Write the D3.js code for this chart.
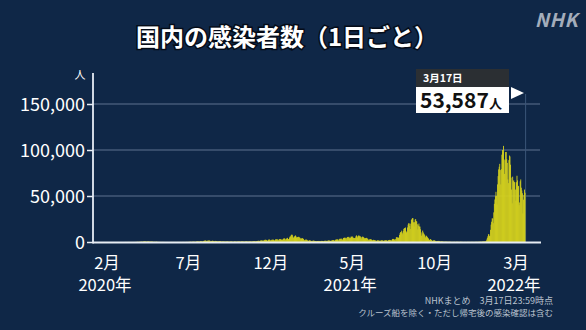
<!DOCTYPE html>
<html><head><meta charset="utf-8">
<script src="https://cdn.jsdelivr.net/npm/d3@7"></script>
<style>
html,body{margin:0;padding:0;background:#0f2747;}
svg{display:block;}
text{font-family:"Noto Sans CJK JP","Noto Sans",sans-serif;}
</style></head>
<body>
<svg id="c" width="586" height="330"></svg>
<script>
// ---- data ----
const title = "国内の感染者数（1日ごと）";
const yTicks = [0, 50000, 100000, 150000];
const xTickMonths = ["2020-02-01","2020-07-01","2020-12-01","2021-05-01","2021-10-01","2022-03-01"];
const xTickMonthLabels = ["2月","7月","12月","5月","10月","3月"];
const xTickYearLabels = ["2020年","","","2021年","","2022年"];
const lastDateLabel = "3月17日";
const lastValue = 53587;
const footnotes = ["NHKまとめ　3月17日23:59時点","クルーズ船を除く・ただし帰宅後の感染確認は含む"];

// start date of each block of daily values
const blockStarts = ["2020-01-16","2020-02-01","2020-03-01","2020-04-01","2020-05-01","2020-06-01","2020-07-01","2020-08-01","2020-09-01","2020-10-01","2020-11-01","2020-12-01",
 "2021-01-01","2021-02-01","2021-03-01","2021-04-01","2021-05-01","2021-06-01","2021-07-01","2021-08-01","2021-09-01","2021-10-01","2021-11-01","2021-12-01",
 "2022-01-01","2022-02-01","2022-03-01"];
const dailyCases = [
 [1,0,0,0,0,0,0,1,1,0,1,0,3,4,2,2],
 [0,0,1,0,0,0,0,1,0,0,0,0,4,8,5,13,6,4,4,9,17,12,5,4,16,21,19,12,13],
 [15,11,16,22,37,55,32,28,34,48,57,53,43,51,33,20,40,44,41,40,48,42,40,67,71,96,122,200,173,88,223],
 [266,233,352,368,383,254,353,509,575,641,718,507,294,455,530,583,560,590,373,358,378,455,433,438,343,206,180,240,215,159],
 [265,293,209,128,125,122,84,103,108,60,45,83,55,87,57,50,31,28,31,39,37,30,27,21,14,21,35,41,44,48,48],
 [45,38,51,40,50,47,34,25,40,45,44,41,54,47,72,43,44,48,68,62,57,51,38,48,48,105,92,97,58,130],
 [124,195,250,274,208,148,208,355,223,430,390,204,154,312,459,622,595,669,510,421,419,795,981,777,838,476,598,983,1264,1301,1579],
 [1536,1331,960,1241,1357,1484,1595,1569,1444,840,700,985,1176,1356,1227,1020,641,853,1191,1126,1098,872,744,475,745,878,936,938,866,553,432],
 [624,585,652,598,510,430,388,508,481,652,586,520,443,268,501,506,582,574,476,352,235,271,532,575,549,471,412,289,490,560],
 [580,556,571,476,288,531,642,604,678,552,450,276,603,523,690,651,601,479,315,560,643,671,603,663,477,453,600,721,798,772,806],
 [861,494,736,867,1046,1184,1324,1224,892,1256,1438,1637,1623,1693,1418,1028,1689,1990,2324,2386,2415,2126,1515,1230,1911,2503,2510,2654,2035,1421],
 [2031,2430,2511,2439,2514,2052,1486,2045,2796,2959,2771,3030,2395,1681,2408,3149,3028,2995,2990,2500,1806,2500,3211,3742,3823,3880,2947,2395,3605,3853,4520],
 [3262,3078,3146,4904,6000,6001,7568,8045,7790,6093,4875,4547,5875,6607,7133,6043,4924,4927,5323,5528,5660,5055,4716,3990,2762,3854,3962,4131,3539,3345,2063],
 [1786,2322,2631,2575,2371,1800,1452,1231,1476,1787,1803,1367,1208,1064,902,1308,1527,1373,1241,1076,1045,807,731,1078,1081,1079,1137,993],
 [1112,753,974,1170,1172,1131,1065,603,1123,1283,1280,1327,1290,948,1014,1508,1680,1492,1471,1505,1118,816,1521,1923,1937,2104,2084,1317,1496,2160,2765],
 [2612,2730,2760,2474,1571,2657,3451,3454,3471,3696,2780,2105,3455,4310,4570,4532,4800,4087,2666,4312,5286,5515,5119,5618,4607,3320,4488,5809,5813,4682],
 [5994,4734,4437,4311,4108,4425,6049,7244,6469,4910,5953,6977,6988,6275,6370,5254,3676,5140,5724,5817,5237,4725,4121,2872,4223,4398,4527,3897,3487,2602,1896],
 [2664,2949,3063,2764,2629,2190,1576,2198,2380,2193,1940,1817,1393,933,1471,1716,1760,1579,1512,1313,950,1455,1771,1790,1629,1706,1303,971,1576,1844],
 [1762,1776,1766,1491,1043,1642,2184,2217,2291,2083,1518,1504,2383,3194,3416,3101,3054,2330,1720,3233,4938,5400,5017,4226,4692,4692,7631,9576,10694,10743,12340],
 [10166,8405,12009,14211,15259,14468,15753,12054,10383,10851,15813,18889,20365,20151,17394,14165,19928,23917,25156,25992,25855,21419,16813,21562,24316,24935,22745,22287,19294,13646,17827],
 [20030,16752,16752,13823,10442,6770,8229,12396,10395,9157,8222,7216,4974,5986,6827,5810,5077,4272,3563,2220,2236,3266,3051,2128,2057,1128,1147,1610,1990,1576],
 [1442,1097,1065,575,1080,1133,1021,1208,878,651,385,562,598,621,508,430,290,229,370,341,386,345,289,263,154,230,301,280,260,228,183],
 [86,157,143,124,182,182,162,65,150,239,209,193,165,118,78,180,216,164,148,153,107,57,74,128,101,129,108,72,81,135],
 [144,123,117,118,117,86,133,167,153,120,114,92,103,128,148,182,179,159,137,182,233,251,282,328,291,207,356,390,515,502,554],
 [534,456,778,1268,2640,4475,6214,8480,8249,6438,6378,13244,18860,22045,25742,25461,20447,32197,41485,46199,49854,54576,50037,40715,62613,71633,78930,81794,84941,78180,62604],
 [79273,94924,100000,97834,104471,89750,74000,88890,97800,97850,90000,86000,68000,64000,89000,94000,93000,84000,70000,57000,42000,71000,66000,67000,65000,65000,57000,45000],
 [65000,72000,67000,60000,61000,40000,43000,66000,68000,59000,56000,53000,31000,46000,51000,57000,53587]
];

// ---- build ----
const parse = d3.timeParse("%Y-%m-%d");
const days = [];
blockStarts.forEach((s, i) => {
  const d0 = parse(s);
  dailyCases[i].forEach((v, j) => {
    days.push({date: d3.timeDay.offset(d0, j), value: v});
  });
});

const svg = d3.select("#c");
svg.append("rect").attr("width",586).attr("height",330).attr("fill","#0f2747");

const x = d3.scaleTime().domain([parse("2020-02-01"), parse("2022-03-01")]).range([107, 516]);
const y = d3.scaleLinear().domain([0, 150000]).range([242, 104]);

// gridlines
svg.append("g").selectAll("line").data(yTicks.filter(t => t > 0)).join("line")
  .attr("x1", 93).attr("x2", 540)
  .attr("y1", d => y(d)).attr("y2", d => y(d))
  .attr("stroke", "#5f7390").attr("stroke-width", 1.2);

// marker line at last date
const lastDate = days[days.length - 1].date;
svg.append("line")
  .attr("x1", x(lastDate) + 1).attr("x2", x(lastDate) + 1)
  .attr("y1", 94).attr("y2", 242)
  .attr("stroke", "#3b5678").attr("stroke-width", 1);

// bars
svg.append("g").selectAll("rect").data(days).join("rect")
  .attr("x", d => x(d.date))
  .attr("width", d => x(d3.timeDay.offset(d.date, 1)) - x(d.date) + 0.35)
  .attr("y", d => y(d.value))
  .attr("height", d => y(0) - y(d.value))
  .attr("fill", "#d6d21e");

// baseline
svg.append("line").attr("x1", 93).attr("x2", 541).attr("y1", 242.5).attr("y2", 242.5)
  .attr("stroke", "#e6ecf4").attr("stroke-width", 2);

// y axis
const yAxis = d3.axisLeft(y).tickValues(yTicks).tickSize(6).tickPadding(2)
  .tickFormat(d3.format(","));
const ya = svg.append("g").attr("transform", "translate(93,0)").call(yAxis);
ya.select(".domain").remove();
ya.selectAll(".tick line").attr("stroke", "#e6ecf4").attr("stroke-width", 1.5);
ya.selectAll(".tick text").attr("fill", "#ffffff").attr("font-size", 18)
  .attr("font-family", "'Noto Sans CJK JP', sans-serif").attr("dy", "0.35em");
svg.append("line").attr("x1", 93).attr("x2", 93).attr("y1", 73).attr("y2", 243.5)
  .attr("stroke", "#e6ecf4").attr("stroke-width", 1.8);
svg.append("text").attr("x", 80).attr("y", 79).attr("text-anchor", "middle")
  .attr("fill", "#ffffff").attr("font-size", 11).text("人");

// x axis labels
const xt = svg.append("g");
xTickMonths.forEach((m, i) => {
  const px = x(parse(m));
  xt.append("text").attr("x", px).attr("y", 269).attr("text-anchor", "middle")
    .attr("fill", "#ffffff").attr("font-size", 16.5).text(xTickMonthLabels[i]);
  if (xTickYearLabels[i]) {
    xt.append("text").attr("x", px - 2).attr("y", 291).attr("text-anchor", "middle")
      .attr("fill", "#ffffff").attr("font-size", 16.5).text(xTickYearLabels[i]);
  }
});

// title
svg.append("text").attr("x", 287).attr("y", 46).attr("text-anchor", "middle")
  .attr("fill", "#ffffff").attr("stroke", "#050c18").attr("stroke-width", 3)
  .attr("paint-order", "stroke").attr("font-weight", "bold").attr("font-size", 24)
  .text(title);

// NHK logo
svg.append("text").attr("x", 578).attr("y", 27).attr("text-anchor", "end")
  .attr("fill", "#a3adbb").attr("font-size", 19).attr("font-weight", "bold")
  .attr("font-style", "italic").attr("font-family", "'DejaVu Sans', sans-serif")
  .attr("letter-spacing", 0.5).text("NHK");

// callout
const cb = svg.append("g");
cb.append("rect").attr("x", 416).attr("y", 69).attr("width", 93).attr("height", 18).attr("fill", "#2b2f33");
cb.append("text").attr("x", 423).attr("y", 82).attr("fill", "#ffffff").attr("font-size", 10.5)
  .attr("font-weight", "bold").text(lastDateLabel);
cb.append("rect").attr("x", 416).attr("y", 87).attr("width", 93).attr("height", 26).attr("fill", "#ffffff");
cb.append("text").attr("x", 420).attr("y", 108).attr("fill", "#111111").attr("font-size", 21)
  .attr("font-weight", "bold").attr("font-family", "'Noto Sans', 'Liberation Sans', sans-serif")
  .text(d3.format(",")(lastValue));
cb.append("text").attr("x", 489).attr("y", 108).attr("fill", "#111111").attr("font-size", 13)
  .attr("font-weight", "bold").text("人");
cb.append("path").attr("d", "M511,87 L524,93 L511,99 Z").attr("fill", "#ffffff");

// footnotes
svg.append("text").attr("x", 553).attr("y", 304).attr("text-anchor", "end")
  .attr("fill", "#b9c2ce").attr("font-size", 9).text(footnotes[0]);
svg.append("text").attr("x", 553).attr("y", 316).attr("text-anchor", "end")
  .attr("fill", "#b9c2ce").attr("font-size", 8.5).text(footnotes[1]);
</script>
</body></html>
